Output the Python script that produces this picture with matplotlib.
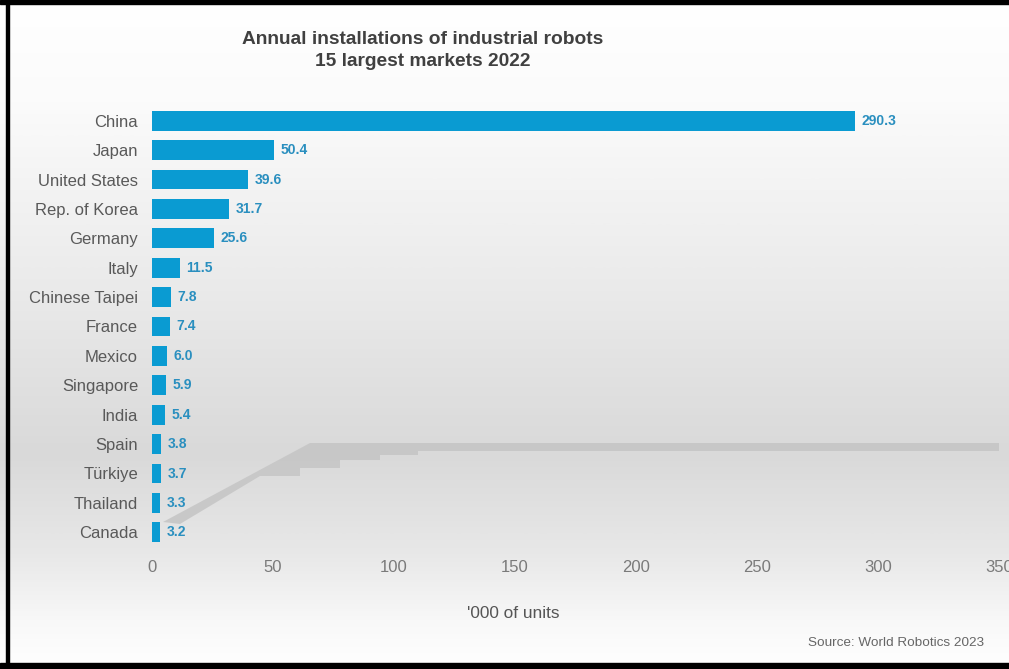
import matplotlib
matplotlib.use("Agg")
import matplotlib.pyplot as plt
import numpy as np
from matplotlib.patches import Polygon, Rectangle
from matplotlib.colors import LinearSegmentedColormap

countries = ["China", "Japan", "United States", "Rep. of Korea", "Germany", "Italy",
             "Chinese Taipei", "France", "Mexico", "Singapore", "India", "Spain",
             "Türkiye", "Thailand", "Canada"]
values = [290.3, 50.4, 39.6, 31.7, 25.6, 11.5, 7.8, 7.4, 6.0, 5.9, 5.4, 3.8, 3.7, 3.3, 3.2]
xticks = [0, 50, 100, 150, 200, 250, 300, 350]

plt.rcParams['font.family'] = ['Liberation Sans', 'DejaVu Sans']

W, H = 1009, 669
fig = plt.figure(figsize=(W / 100, H / 100), dpi=100)

# background gradient
bg = fig.add_axes([0, 0, 1, 1], zorder=-10)
stops = [(0.0, "#ffffff"), (0.15, "#fbfbfb"), (0.45, "#e9e9e9"), (0.68, "#d9d9d9"),
         (0.83, "#e8e8e8"), (0.93, "#f8f8f8"), (1.0, "#ffffff")]
cmap = LinearSegmentedColormap.from_list("bg", stops)
grad = np.linspace(0, 1, 400).reshape(-1, 1)
bg.imshow(grad, aspect="auto", cmap=cmap, extent=[0, 1, 1, 0])
bg.set_xlim(0, 1)
bg.set_ylim(1, 0)
bg.axis("off")

# border (left, top, bottom)
for (x0, y0, w, h) in [(6, 0, 3, 669), (0, 0, 1009, 4), (0, 663, 1009, 6)]:
    fig.patches.append(Rectangle((x0 / W, 1 - (y0 + h) / H), w / W, h / H,
                                 transform=fig.transFigure, color="black", zorder=10))

ax = fig.add_axes([152 / W, (H - 547) / H, 847 / W, 441 / H])
ax.set_facecolor("none")
y = np.arange(len(countries))
ax.barh(y, values, height=0.68, color="#0a9bd2", zorder=3)
for yi, v in zip(y, values):
    ax.text(v + 2.8, yi, f"{v:.1f}", va="center", ha="left", fontsize=10,
            color="#2a8fbf", fontweight="bold", zorder=4)

ax.set_xlim(0, 350)
ax.set_ylim(len(countries) - 0.5, -0.5)
ax.set_yticks(y)
ax.set_yticklabels(countries, fontsize=12, color="#595959")
ax.set_xticks(xticks)
ax.set_xticklabels([str(t) for t in xticks], fontsize=12, color="#7a7a7a")
ax.tick_params(axis="both", length=0)
ax.tick_params(axis="y", pad=10)
ax.tick_params(axis="x", pad=9)
for s in ax.spines.values():
    s.set_visible(False)

# gray shadow artifact (decoration, drawn in pixel -> axes fraction)
def pix2ax(pxx, pyy):
    return ((pxx - 152) / 847, (547 - pyy) / 441)
shape_px = [(163, 522), (310, 443), (1000, 443), (1000, 451), (418, 451), (418, 455),
            (380, 455), (380, 460), (340, 460), (340, 468), (300, 468), (300, 476),
            (260, 476), (180, 524)]
poly = Polygon([pix2ax(a, b) for a, b in shape_px], closed=True, transform=ax.transAxes,
               facecolor="#c6c6c6", edgecolor="none", zorder=1, alpha=0.9)
ax.add_patch(poly)

fig.text(423 / W, 1 - 40 / H, "Annual installations of industrial robots", ha="center",
         va="center", fontsize=13.8, fontweight="bold", color="#404040")
fig.text(423 / W, 1 - 62 / H, "15 largest markets 2022", ha="center",
         va="center", fontsize=13.8, fontweight="bold", color="#404040")
fig.text(513 / W, 1 - 614 / H, "'000 of units", ha="center", va="center",
         fontsize=12.4, color="#555555")
fig.text(984 / W, 1 - 643 / H, "Source: World Robotics 2023", ha="right", va="center",
         fontsize=9.7, color="#666666")

fig.savefig("out.png", dpi=100)
